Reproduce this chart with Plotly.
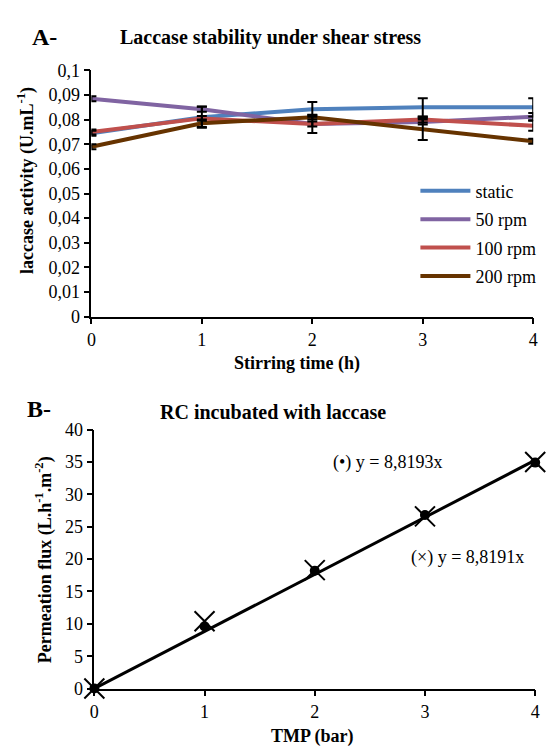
import plotly.graph_objects as go

W, H = 550, 756

# ---------------- Data: panel A ----------------
time_h = [0, 1, 2, 3, 4]
series_names = ["static", "50 rpm", "100 rpm", "200 rpm"]
static = [0.0745, 0.0810, 0.0842, 0.0850, 0.0850]
rpm50 = [0.0885, 0.0842, 0.0782, 0.0790, 0.0812]
rpm100 = [0.0750, 0.0805, 0.0782, 0.0800, 0.0775]
rpm200 = [0.0690, 0.0785, 0.0810, 0.0762, 0.0712]
err_static = [0.0010, 0.0043, 0.0030, 0.0037, 0.0037]
err_50 = [0.0010, 0.0010, 0.0010, 0.0010, 0.0015]
err_100 = [0.0010, 0.0010, 0.0036, 0.0012, 0.0020]
err_200 = [0.0010, 0.0015, 0.0010, 0.0045, 0.0010]
colors_A = ["#4F81BD", "#8064A2", "#C0504D", "#663300"]

# ---------------- Data: panel B ----------------
tmp_bar = [0, 1, 2, 3, 4]
flux_dot = [0, 9.6, 18.2, 26.8, 34.9]
flux_cross = [0, 10.4, 18.3, 26.6, 35.0]
slopes = [8.8193, 8.8191]

def px(x):
    return x / W

def py(y):
    return 1 - y / H

FONT = "Liberation Serif, Times New Roman, serif"
TICK = 18

fig = go.Figure()

vals_A = [static, rpm50, rpm100, rpm200]
errs_A = [err_static, err_50, err_100, err_200]
for i, (name, v, c) in enumerate(zip(series_names, vals_A, colors_A)):
    fig.add_trace(go.Scatter(
        x=time_h, y=v, mode="lines", name=name,
        line=dict(color=c, width=4), legendgroup=name,
        xaxis="x", yaxis="y"))
for v, e in zip(vals_A, errs_A):
    fig.add_trace(go.Scatter(
        x=time_h, y=v, mode="markers", showlegend=False,
        marker=dict(size=1, color="rgba(0,0,0,0)"),
        error_y=dict(type="data", array=e, visible=True, color="black",
                     thickness=2, width=5),
        xaxis="x", yaxis="y", hoverinfo="skip", cliponaxis=False))

# Panel B
fig.add_trace(go.Scatter(
    x=[tmp_bar[0], tmp_bar[-1]],
    y=[slopes[0] * tmp_bar[0], slopes[0] * tmp_bar[-1]],
    mode="lines", line=dict(color="black", width=3),
    showlegend=False, xaxis="x2", yaxis="y2"))
fig.add_trace(go.Scatter(
    x=tmp_bar, y=flux_dot, mode="markers", showlegend=False,
    marker=dict(symbol="circle", size=10, color="black"),
    xaxis="x2", yaxis="y2", cliponaxis=False))
fig.add_trace(go.Scatter(
    x=tmp_bar, y=flux_cross, mode="markers", showlegend=False,
    marker=dict(symbol="x-thin", size=20, color="black",
                line=dict(color="black", width=2)),
    xaxis="x2", yaxis="y2", cliponaxis=False))

axis_common = dict(showgrid=False, zeroline=False, showline=True,
                   linecolor="black", linewidth=1.5, ticks="outside",
                   ticklen=6, tickwidth=1.5, tickcolor="black",
                   tickfont=dict(family=FONT, size=TICK, color="black"))

fig.update_layout(
    width=W, height=H,
    margin=dict(l=0, r=0, t=0, b=0),
    paper_bgcolor="white", plot_bgcolor="white",
    separators=", ",
    font=dict(family=FONT, color="black"),
    xaxis=dict(domain=[px(88), px(538)], anchor="y", range=[0, 4],
               tickvals=[0, 1, 2, 3, 4], **axis_common),
    yaxis=dict(domain=[py(315), py(62)], anchor="x", range=[0, 0.1],
               dtick=0.01, tickformat=".2~f", **axis_common),
    xaxis2=dict(domain=[px(91), px(540)], anchor="y2", range=[0, 4],
                tickvals=[0, 1, 2, 3, 4], **axis_common),
    yaxis2=dict(domain=[py(697), py(431)], anchor="x2", range=[0, 40],
                dtick=5, **axis_common),
    legend=dict(x=px(418), y=py(167), xanchor="left", yanchor="top",
                font=dict(family=FONT, size=18, color="black"),
                bgcolor="rgba(0,0,0,0)", traceorder="grouped",
                tracegroupgap=2, itemwidth=50),
    showlegend=True,
)

ann = []
def add_text(text, x, y, size, bold=False, angle=0):
    t = f"<b>{text}</b>" if bold else text
    ann.append(dict(text=t, x=px(x), y=py(y), xref="paper", yref="paper",
                    showarrow=False, textangle=angle, xanchor="center",
                    yanchor="middle",
                    font=dict(family=FONT, size=size, color="black")))

add_text("A-", 40, 28, 24, bold=True)
add_text("Laccase stability under shear stress", 270, 28, 20, bold=True)
add_text("laccase activity (U.mL<sup>-1</sup>)", 22, 175, 18, bold=True, angle=-90)
add_text("Stirring time (h)", 297, 363, 18, bold=True)

add_text("B-", 35, 410, 24, bold=True)
add_text("RC incubated with laccase", 273, 413, 20, bold=True)
add_text("Permeation flux (L.h<sup>-1</sup>.m<sup>-2</sup>)", 40, 565, 18, bold=True, angle=-90)
add_text("TMP (bar)", 313, 746, 18, bold=True)
add_text("(•) y = 8,8193x", 390, 465, 18)
add_text("(×) y = 8,8191x", 471, 562, 18)

fig.update_layout(annotations=ann)

fig.write_html(
    "out.html",
    config={"displayModeBar": False},
    post_script=(
        "document.body.style.margin='0';document.body.style.padding='0';"
        "document.documentElement.style.overflow='hidden';"
    ),
)
